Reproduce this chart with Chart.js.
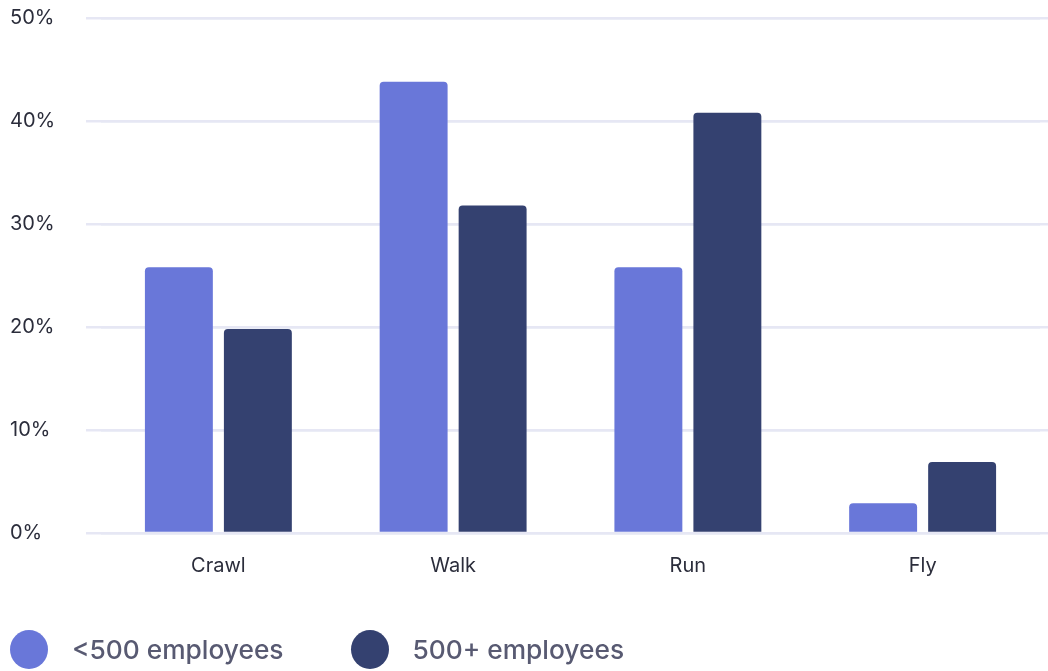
<!DOCTYPE html>
<html lang="en">
  <head>
    <meta charset="UTF-8" />
    <title>Movement by company size</title>
    <style>
      html, body { margin: 0; padding: 0; background: #fff; }
      #wrap { position: relative; width: 1048px; height: 671px; }
      #legend {
        position: absolute;
        left: 10px;
        top: 630px;
        display: flex;
        font-family: Inter, sans-serif;
        font-size: 26.3px;
        font-weight: 500;
        color: #585a72;
      }
      #legend .item { display: flex; align-items: center; margin-right: 67px; height: 39px; }
      #legend .dot { width: 38px; height: 39px; border-radius: 50%; margin-right: 24px; }
    </style>
  </head>
  <body>
    <div id="wrap">
      <canvas id="bar"></canvas>
      <div id="legend"></div>
    </div>

    <script src="https://cdn.jsdelivr.net/npm/chart.js@4.4.1/dist/chart.umd.min.js"></script>
    <script>
      const categories = ["Crawl", "Walk", "Run", "Fly"];
      const seriesNames = ["<500 employees", "500+ employees"];
      const small = [25.8, 43.8, 25.8, 2.9]; // <500 employees
      const large = [19.8, 31.8, 40.8, 6.9]; // 500+ employees
      const yTicks = [0, 10, 20, 30, 40, 50];

      const colors = ["#6977d9", "#344170"];
      const gridColor = "#e6e7f4";
      const textColor = "#2b2d3b";

      const noPad = (s) => { s.paddingTop = 0; s.paddingBottom = 0; };

      const ctx = document.getElementById("bar").getContext("2d");
      const chart = new Chart(ctx, {
        type: "bar",
        data: {
          labels: categories,
          datasets: [small, large].map((d, i) => ({
            label: seriesNames[i],
            data: d,
            backgroundColor: colors[i],
            borderRadius: { topLeft: 4, topRight: 4 },
            borderSkipped: "bottom",
            categoryPercentage: 0.673,
            barPercentage: 0.86,
          })),
        },
        options: {
          responsive: true,
          maintainAspectRatio: false,
          animation: false,
          layout: { padding: { left: 10, top: 18, right: 0, bottom: 78 } },
          scales: {
            x: {
              afterFit: (s) => { s.height = 60; },
              grid: { display: false, drawTicks: false },
              border: { display: false },
              ticks: {
                color: textColor,
                font: { family: "Inter", size: 20 },
                padding: 21,
              },
            },
            y: {
              min: 0,
              max: 50,
              afterFit: (s) => { s.width = 91; noPad(s); },
              afterBuildTicks: (s) => { s.ticks = yTicks.map((v) => ({ value: v })); },
              grid: { color: gridColor, lineWidth: 2.5, tickLength: 15 },
              border: { display: false },
              ticks: {
                color: textColor,
                font: { family: "Inter", size: 20 },
                crossAlign: "far",
                padding: 34,
                callback: (v) => v + "%",
              },
            },
            y2: {
              position: "right",
              min: 0,
              max: 50,
              afterFit: noPad,
              afterBuildTicks: (s) => { s.ticks = yTicks.map((v) => ({ value: v })); },
              grid: { color: gridColor, lineWidth: 2.5, tickLength: 8 },
              border: { display: false },
              ticks: { display: false },
            },
          },
          plugins: {
            tooltip: { enabled: false },
            legend: { display: false },
          },
        },
      });

      // legend built from the chart's own datasets
      const legend = document.getElementById("legend");
      chart.data.datasets.forEach((ds) => {
        const item = document.createElement("div");
        item.className = "item";
        const dot = document.createElement("span");
        dot.className = "dot";
        dot.style.background = ds.backgroundColor;
        const label = document.createElement("span");
        label.textContent = ds.label;
        item.appendChild(dot);
        item.appendChild(label);
        legend.appendChild(item);
      });
    </script>
  </body>
</html>
